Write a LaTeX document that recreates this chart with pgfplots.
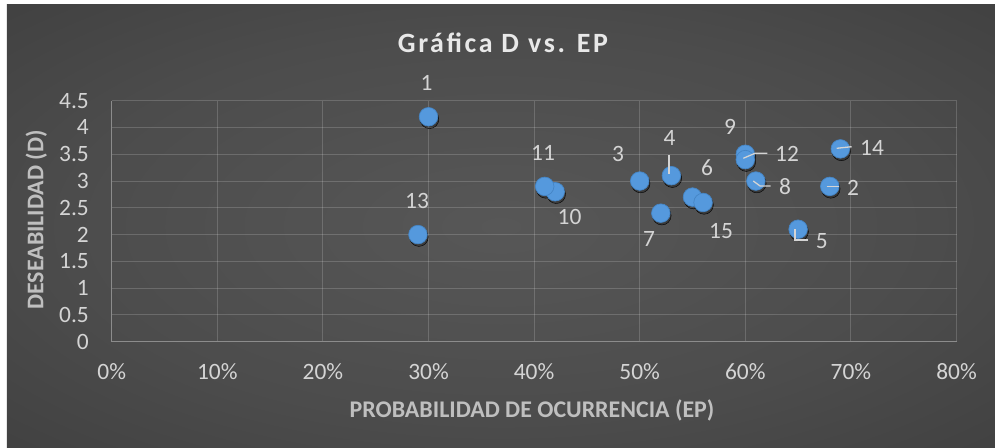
\documentclass[border=0pt]{standalone}
\usepackage{pgfplots}
\usepackage{pgfplotstable}
\pgfplotsset{compat=1.18}
\usepackage{fontspec}
\setmainfont{Carlito}
\definecolor{bgA}{HTML}{575757}
\definecolor{bgB}{HTML}{4C4C4C}
\definecolor{bgC}{HTML}{363636}
\definecolor{bgD}{HTML}{262626}
\definecolor{tickc}{HTML}{D4D4D4}
\definecolor{labc}{HTML}{BFBFBF}
\definecolor{titc}{HTML}{E8E8E8}
\definecolor{ptc}{HTML}{5599DD}
\definecolor{ptd}{HTML}{4585C5}
\definecolor{axc}{HTML}{8C8C8C}
\pgfdeclareradialshading{chartbg}{\pgfpoint{0bp}{0bp}}{color(0bp)=(bgA); color(22bp)=(bgB); color(50bp)=(bgC); color(71bp)=(bgD)}
\pgfplotstableread{
x y n
0.30 4.2 1
0.68 2.9 2
0.50 3.0 3
0.53 3.1 4
0.65 2.1 5
0.55 2.7 6
0.52 2.4 7
0.61 3.0 8
0.60 3.5 9
0.42 2.8 10
0.41 2.9 11
0.60 3.4 12
0.29 2.0 13
0.69 3.6 14
0.56 2.6 15
}\pts
\begin{document}
\begin{tikzpicture}
\begin{scope}[shift={(-111.7bp,341.7bp)}, x=1bp, y=-1bp]
  \fill[white] (0,0) rectangle (995,448);
  \shade[shading=chartbg] (7,5) rectangle (995,448);
\end{scope}
\begin{axis}[
  at={(0,0)}, anchor=south west,
  scale only axis, width=844.8bp, height=241bp,
  xmin=0, xmax=0.8, ymin=0, ymax=4.5,
  axis lines=left,
  axis line style={-, draw=axc, line width=1.2bp},
  grid=major,
  grid style={draw=white, opacity=0.17, line width=1bp},
  major tick length=0pt,
  xtick={0,0.1,0.2,0.3,0.4,0.5,0.6,0.7,0.8},
  xticklabels={0\%,10\%,20\%,30\%,40\%,50\%,60\%,70\%,80\%},
  ytick={0,0.5,1,1.5,2,2.5,3,3.5,4,4.5},
  yticklabels={0,0.5,1,1.5,2,2.5,3,3.5,4,4.5},
  ticklabel style={font=\fontsize{23.5}{28}\selectfont, text=tickc, inner sep=0pt},
  xticklabel style={anchor=base, yshift=-38.3bp},
  yticklabel style={anchor=east, xshift=-22.7bp},
  clip=false,
]
\addplot[only marks, mark=*, mark size=9.3bp,
  mark options={fill=black, draw=none, fill opacity=0.28, xshift=1bp, yshift=-2.5bp}] table[x=x,y=y] {\pts};
\addplot[only marks, mark=*, mark size=9.3bp,
  mark options={fill=ptc, draw=ptd, line width=0.7bp}] table[x=x,y=y] {\pts};
\end{axis}
\begin{scope}[shift={(-111.7bp,341.7bp)}, x=1bp, y=-1bp]
  % title and axis titles
  \node[anchor=base, text=titc, inner sep=0pt, font=\fontsize{28}{32}\selectfont\bfseries\addfontfeature{LetterSpace=9.5}] at (503,53) {Gráfica D vs. EP};
  \node[anchor=base, text=labc, inner sep=0pt, font=\fontsize{24}{28}\selectfont\bfseries] at (532,417.7) {PROBABILIDAD DE OCURRENCIA (EP)};
  \node[anchor=base, rotate=90, text=labc, inner sep=0pt, font=\fontsize{24}{28}\selectfont\bfseries] at (43.3,220) {DESEABILIDAD (D)};
  % leader lines
  \begin{scope}[draw=tickc, line width=1.3bp]
    \draw (669,155) -- (669,174);
    \draw (743.3,158.3) -- (755,153.3) -- (767.3,153.3);
    \draw (753.3,181) -- (760,186) -- (770.7,186);
    \draw (826.7,186.7) -- (839.3,186.7);
    \draw (836.7,148.3) -- (851.7,146.7);
    \draw (795,229.3) -- (795,240) -- (807.7,240);
  \end{scope}
  % data labels
  \begin{scope}[every node/.style={inner sep=0pt, anchor=center, text=tickc, font=\fontsize{23.5}{28}\selectfont}]
    \node at (426.5,83) {1};
    \node at (853,187.5) {2};
    \node at (618,153.5) {3};
    \node at (669.5,137.5) {4};
    \node at (821.7,241) {5};
    \node at (707,167.5) {6};
    \node at (649,238.5) {7};
    \node at (785,187) {8};
    \node at (730,127) {9};
    \node at (569.5,216.5) {10};
    \node at (543,152.5) {11};
    \node at (787,154) {12};
    \node at (417,200.5) {13};
    \node at (872,148) {14};
    \node at (721,231.5) {15};
  \end{scope}
\end{scope}
\end{tikzpicture}
\end{document}
